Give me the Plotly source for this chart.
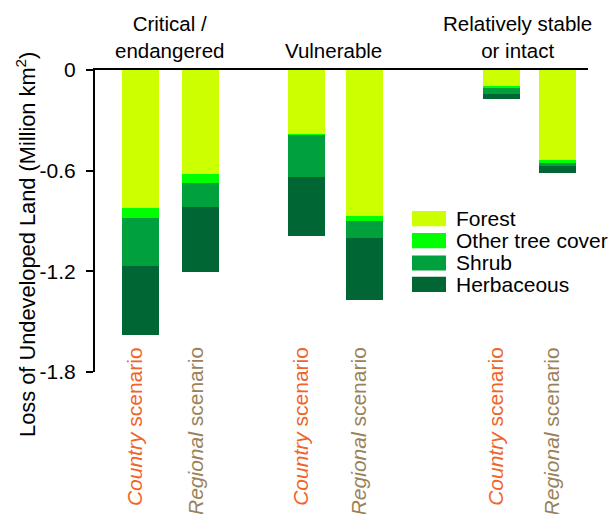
import plotly.graph_objects as go

# ---- data ----
groups = ["Critical /<br>endangered", "Vulnerable", "Relatively stable<br>or intact"]
scenarios = ["Country", "Regional", "Country", "Regional", "Country", "Regional"]
forest = [-0.825, -0.617, -0.384, -0.872, -0.100, -0.535]
other_tree = [-0.055, -0.057, -0.005, -0.028, -0.010, -0.018]
shrub = [-0.290, -0.144, -0.248, -0.099, -0.035, -0.020]
herbaceous = [-0.408, -0.388, -0.352, -0.370, -0.030, -0.038]
series_names = ["Forest", "Other tree cover", "Shrub", "Herbaceous"]
y_ticks = [0, -0.6, -1.2, -1.8]
y_ticktext = ["0", "-0.6", "-1.2", "-1.8"]

# ---- layout / style ----
x_pos = [0.923, 2.148, 4.284, 5.460, 8.240, 9.377]
group_x = [1.52, 4.83, 8.57]
bar_width = 0.75
colors = ["#ccff00", "#00ff00", "#00a03c", "#006633"]
scen_colors = {"Country": "#f0642a", "Regional": "#9a825a"}
FONT = "Liberation Sans, Arial, sans-serif"
FS = 21

fig = go.Figure()
for name, vals, col in zip(series_names, [forest, other_tree, shrub, herbaceous], colors):
    fig.add_trace(go.Bar(x=x_pos, y=vals, name=name, width=bar_width,
                         marker=dict(color=col, line=dict(width=0)), showlegend=False))

annotations = []
# group titles
for gx, g in zip(group_x, groups):
    annotations.append(dict(x=gx, y=1.02, xref="x", yref="paper", text=g, showarrow=False,
                            xanchor="center", yanchor="bottom",
                            font=dict(family=FONT, size=20.5, color="black")))
# scenario labels
for xp, s in zip(x_pos, scenarios):
    annotations.append(dict(x=xp, y=0.089, xref="x", yref="paper",
                            text=f"<i>{s}</i> scenario", showarrow=False, textangle=-90,
                            xanchor="center", yanchor="top", xshift=-6,
                            font=dict(family=FONT, size=FS, color=scen_colors[s])))
# y-axis title
annotations.append(dict(x=-0.14, y=0.424, xref="paper", yref="paper",
                        text="Loss of Undeveloped Land (Million km<sup>2</sup>)",
                        showarrow=False, textangle=-90, xanchor="center", yanchor="middle",
                        font=dict(family=FONT, size=21.8, color="black")))

# custom legend
shapes = []
leg_y = [0.508, 0.435, 0.361, 0.290]
for name, col, ly in zip(series_names, colors, leg_y):
    shapes.append(dict(type="rect", xref="paper", yref="paper", x0=0.643, x1=0.712,
                       y0=ly - 0.025, y1=ly + 0.025, fillcolor=col, line=dict(width=0)))
    annotations.append(dict(x=0.728, y=ly, xref="paper", yref="paper", text=name,
                            showarrow=False, xanchor="left", yanchor="middle",
                            font=dict(family=FONT, size=FS, color="black")))

fig.update_layout(
    width=609, height=514,
    margin=dict(l=95, r=21, t=70, b=142),
    plot_bgcolor="white", paper_bgcolor="white",
    barmode="relative", bargap=0,
    font=dict(family=FONT, size=FS, color="black"),
    xaxis=dict(range=[0, 10], side="top", showline=True, linecolor="black", linewidth=2,
               showticklabels=False, ticks="", showgrid=False, zeroline=False, fixedrange=True),
    yaxis=dict(range=[-1.8, 0], tickvals=y_ticks, ticktext=y_ticktext, showline=True,
               linecolor="black", linewidth=2, ticks="outside", ticklen=7, tickwidth=2,
               tickcolor="black", showgrid=False, zeroline=False, ticklabelstandoff=6,
               tickfont=dict(family=FONT, size=FS, color="black")),
    annotations=annotations, shapes=shapes,
)

fig.write_html("out.html", config={"displayModeBar": False},
               post_script="document.body.style.margin='0';document.body.style.overflow='hidden';")
